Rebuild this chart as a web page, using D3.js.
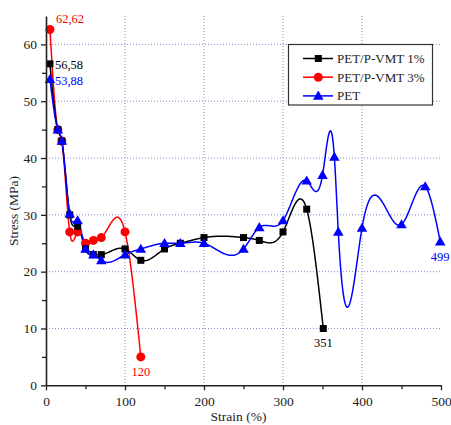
<!DOCTYPE html>
<html><head><meta charset="utf-8">
<script src="https://cdn.jsdelivr.net/npm/d3@7"></script>
<style>body{margin:0;background:#fff;} svg{display:block;}</style>
</head><body>
<svg id="chart" width="451" height="425"></svg>
<script>
// ---- data ----
const seriesNames = ["PET/P-VMT 1%", "PET/P-VMT 3%", "PET"];
const vmt1X = [5,15,20,30,40,50,60,70,100,120,150,170,200,250,270,300,330,351];
const vmt1Y = [56.58,45,43,30,28,24,23,23,24,22,24,25,26,26,25.5,27,31,10];
const vmt3X = [5,15,20,30,40,50,60,70,100,120];
const vmt3Y = [62.62,45,43,27,27,25,25.5,26,27,5];
const petX = [5,15,20,30,40,50,60,70,100,120,150,170,200,250,270,300,330,350,365,370,400,450,480,499];
const petY = [53.88,45,43,30.2,29,24,23,22,23,24,25,25,25,24,27.8,29,36,37,40.2,27,27.7,28.3,35,25.3];
const xTicks = [0,100,200,300,400,500];
const yTicks = [0,10,20,30,40,50,60];
const annotations = [
  {text:"62,62", x:5, y:62.62, s:1},
  {text:"56,58", x:5, y:56.58, s:0},
  {text:"53,88", x:5, y:53.88, s:2},
  {text:"120", x:120, y:5, s:1},
  {text:"351", x:351, y:10, s:0},
  {text:"499", x:499, y:25.3, s:2}
];

const colors = ["#000000", "#ff0000", "#0000ff"];
const m = {left:46, right:441, top:16, bottom:385.3};
const svg = d3.select("#chart");
const x = d3.scaleLinear().domain([0,500]).range([m.left, m.right]);
const y = d3.scaleLinear().domain([0,65]).range([m.bottom, m.top]);
const font = "'Times New Roman', Times, 'Liberation Serif', serif";

// grid
const grid = svg.append("g").attr("stroke", "#8a8ad0").attr("stroke-width", 1).attr("stroke-dasharray", "1,2");
grid.selectAll("line.v").data([100,200,300,400]).enter().append("line")
  .attr("x1", d=>x(d)).attr("x2", d=>x(d)).attr("y1", y(65)).attr("y2", y(0));
grid.selectAll("line.h").data([10,20,30,40,50,60]).enter().append("line")
  .attr("y1", d=>y(d)).attr("y2", d=>y(d)).attr("x1", x(0)).attr("x2", x(500));

// natural cubic spline in x
function spline(xs, ys) {
  const n = xs.length;
  const h = [], al = [], l = new Array(n).fill(1), mu = new Array(n).fill(0), z = new Array(n).fill(0);
  const c = new Array(n).fill(0), b = [], d = [];
  for (let i=0;i<n-1;i++) h[i] = xs[i+1]-xs[i];
  for (let i=1;i<n-1;i++) al[i] = 3/h[i]*(ys[i+1]-ys[i]) - 3/h[i-1]*(ys[i]-ys[i-1]);
  for (let i=1;i<n-1;i++) {
    l[i] = 2*(xs[i+1]-xs[i-1]) - h[i-1]*mu[i-1];
    mu[i] = h[i]/l[i];
    z[i] = (al[i]-h[i-1]*z[i-1])/l[i];
  }
  for (let j=n-2;j>=0;j--) {
    c[j] = z[j] - mu[j]*c[j+1];
    b[j] = (ys[j+1]-ys[j])/h[j] - h[j]*(c[j+1]+2*c[j])/3;
    d[j] = (c[j+1]-c[j])/(3*h[j]);
  }
  const pts = [];
  for (let i=0;i<n-1;i++) {
    const steps = 40;
    for (let k=0;k<steps;k++) {
      const t = h[i]*k/steps;
      pts.push([xs[i]+t, ys[i]+b[i]*t+c[i]*t*t+d[i]*t*t*t]);
    }
  }
  pts.push([xs[n-1], ys[n-1]]);
  return pts;
}

const series = [
  {xs:vmt1X, ys:vmt1Y},
  {xs:vmt3X, ys:vmt3Y},
  {xs:petX, ys:petY}
];
const line = d3.line().x(d=>x(d[0])).y(d=>y(d[1]));

const tri = d3.symbol().type(d3.symbolTriangle).size(48);
function drawMarker(g, cx, cy, s, c) {
  if (s===0) g.append("rect").attr("x", cx-3.5).attr("y", cy-3.5).attr("width",7).attr("height",7).attr("fill", c);
  else if (s===1) g.append("circle").attr("cx", cx).attr("cy", cy).attr("r", 4.5).attr("fill", c);
  else g.append("path").attr("d", tri()).attr("transform", `translate(${cx},${cy+0.8})`).attr("fill", c);
}

[1,0,2].forEach(si => {
  const s = series[si];
  svg.append("path").attr("d", line(spline(s.xs, s.ys))).attr("fill","none")
    .attr("stroke", colors[si]).attr("stroke-width", 1.5);
});
[1,0,2].forEach(si => {
  const s = series[si];
  const g = svg.append("g");
  s.xs.forEach((xv,i) => drawMarker(g, x(xv), y(s.ys[i]), si, colors[si]));
});

// axes
const xAxis = svg.append("g").attr("transform", `translate(0,${m.bottom})`);
xAxis.call(d3.axisBottom(x).tickValues(xTicks).tickSize(5).tickSizeOuter(0).tickPadding(6));
const xMinor = svg.append("g").attr("transform", `translate(0,${m.bottom})`);
xMinor.call(d3.axisBottom(x).tickValues([50,150,250,350,450]).tickSize(4).tickFormat("").tickSizeOuter(0));
xMinor.select(".domain").remove();
const yAxis = svg.append("g").attr("transform", `translate(${m.left},0)`);
yAxis.call(d3.axisLeft(y).tickValues(yTicks).tickSize(5).tickSizeOuter(0).tickPadding(4));
const yMinor = svg.append("g").attr("transform", `translate(${m.left},0)`);
yMinor.call(d3.axisLeft(y).tickValues([5,15,25,35,45,55]).tickSize(4).tickFormat("").tickSizeOuter(0));
yMinor.select(".domain").remove();
svg.selectAll("g").attr("font-family", font);
svg.selectAll(".domain").attr("stroke", "#222").attr("stroke-width", 1.6);
svg.selectAll(".tick line").attr("stroke", "#222").attr("stroke-width", 1.3);
svg.selectAll(".tick text").attr("font-family", font).attr("font-size", 13.5).attr("fill", "#222");

svg.append("text").attr("x", (m.left+m.right)/2 - 5).attr("y", 421).attr("text-anchor","middle")
  .attr("font-family", font).attr("font-size", 13.5).attr("fill","#222").text("Strain (%)");
svg.append("text").attr("transform", `translate(18,211) rotate(-90)`).attr("text-anchor","middle")
  .attr("font-family", font).attr("font-size", 13.5).attr("fill","#222").text("Stress (MPa)");

// annotations
const annOff = {"62,62":[6,-7,"start"], "56,58":[5,5,"start"], "53,88":[5,6,"start"], "120":[0,19,"middle"], "351":[0,19,"middle"], "499":[0,19,"middle"]};
annotations.forEach(a => {
  const o = annOff[a.text];
  svg.append("text").attr("x", x(a.x)+o[0]).attr("y", y(a.y)+o[1]).attr("text-anchor", o[2])
    .attr("font-family", font).attr("font-size", 12.5).attr("fill", colors[a.s]).text(a.text);
});

// legend
const lg = svg.append("g");
lg.append("rect").attr("x", 288.5).attr("y", 44.5).attr("width", 144).attr("height", 60.5)
  .attr("fill", "#fff").attr("stroke", "#333").attr("stroke-width", 1.2);
seriesNames.forEach((name, i) => {
  const ly = 58.5 + i*18.7;
  lg.append("line").attr("x1", 303).attr("x2", 333).attr("y1", ly).attr("y2", ly)
    .attr("stroke", colors[i]).attr("stroke-width", 1.5);
  drawMarker(lg, 318.3, ly, i, colors[i]);
  lg.append("text").attr("x", 337).attr("y", ly+4.5).attr("font-family", font).attr("font-size", 13)
    .attr("fill", "#222").text(name);
});
</script>
</body></html>
